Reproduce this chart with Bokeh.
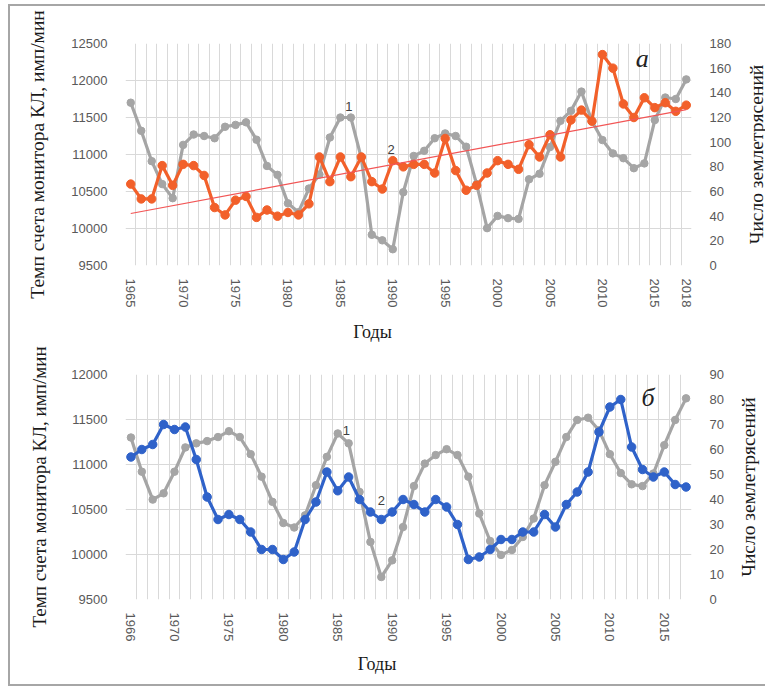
import numpy as np
from bokeh.plotting import figure
from bokeh.models import Range1d, LinearAxis, FixedTicker, Label, ColumnDataSource
from bokeh.layouts import column, row
from bokeh.embed import file_html
from bokeh.resources import INLINE

# ---- panel (а): 1965-2018 ----
years_a = list(range(1965, 2019))
count_a = [11700, 11320, 10910, 10600, 10410, 11130, 11270, 11250, 11220, 11375,
           11400, 11435, 11200, 10845, 10725, 10340, 10220, 10540, 10730, 11230,
           11500, 11500, 10950, 9915, 9840, 9720, 10490, 10980, 11050, 11220,
           11285, 11250, 11105, 10600, 10005, 10170, 10140, 10130, 10665, 10740,
           11100, 11455, 11590, 11850, 11450, 11195, 11015, 10950, 10815, 10880,
           11465, 11770, 11750, 12015]
quakes_a = [66, 54, 54, 81, 65, 82, 81, 73, 47, 41,
            53, 56, 39, 45, 40, 43, 41, 50, 88, 68,
            88, 72, 88, 68, 62, 85, 80, 82, 82, 75,
            103, 77, 61, 65, 75, 85, 82, 78, 98, 88,
            106, 88, 118, 126, 117, 171, 160, 131, 120, 136,
            128, 132, 125, 130]
xticks_a = [1965, 1970, 1975, 1980, 1985, 1990, 1995, 2000, 2005, 2010, 2015, 2018]
rticks_a = list(range(0, 181, 20))

# ---- panel (б): 1966-2017 ----
years_b = list(range(1966, 2018))
count_b = [11300, 10920, 10610, 10680, 10920, 11190, 11235, 11260, 11305, 11370,
           11305, 11115, 10865, 10585, 10350, 10300, 10435, 10770, 11085, 11345,
           11235, 10695, 10140, 9750, 9935, 10305, 10760, 11010, 11105, 11170,
           11105, 10865, 10455, 10150, 9995, 10050, 10195, 10400, 10770, 11030,
           11305, 11495, 11520, 11380, 11115, 10905, 10780, 10760, 10900, 11215,
           11495, 11735]
quakes_b = [57, 60, 62, 70, 68, 69, 56, 41, 32, 34,
            32, 27, 20, 20, 16, 19, 32, 39, 51, 43.5,
            49, 40, 35, 32, 35, 40, 38, 35, 40, 37,
            30, 16, 17, 20, 24, 24, 27, 27, 34, 29,
            38, 43, 51, 67, 77, 80, 61, 52, 49, 51,
            46, 45]
xticks_b = [1966, 1970, 1975, 1980, 1985, 1990, 1995, 2000, 2005, 2010, 2015]
rticks_b = list(range(0, 91, 10))

lticks_a = list(range(9500, 12501, 500))
lticks_b = list(range(9500, 12001, 500))

GRAY = "#a5a5a5"
ORANGE = "#f2602a"
BLUE = "#2f62c9"
TREND = "#f25555"
GRID = "#d9d9d9"
TICK_TXT = "#595959"
SANS = "Liberation Sans"
SERIF = "Liberation Serif"

LEFT_LABEL = "Темп счета монитора КЛ, имп/мин"
RIGHT_LABEL = "Число землетрясений"
X_LABEL = "Годы"
NBSP = "\u00a0"


def style_axis(ax, label_standoff, label_size="19.5px"):
    ax.axis_line_color = None
    ax.major_tick_line_color = None
    ax.minor_tick_line_color = None
    ax.major_label_text_font = SANS
    ax.major_label_text_font_size = "13px"
    ax.major_label_text_color = TICK_TXT
    ax.major_label_standoff = 12
    ax.axis_label_text_font = SERIF
    ax.axis_label_text_font_size = label_size
    ax.axis_label_text_font_style = "normal"
    ax.axis_label_text_color = "#1a1a1a"
    ax.axis_label_standoff = label_standoff


def make_panel(years, count, quakes, xlo, xhi, ylo, yhi, rmax,
               xticks, lticks, rticks, borders, frame_h, stands, xpad, ysize):
    bl, br, bt, bb = borders
    xs, ls = stands
    p = figure(frame_width=566, frame_height=frame_h,
               min_border_left=bl, min_border_right=br,
               min_border_top=bt, min_border_bottom=bb,
               x_range=Range1d(xlo, xhi), y_range=Range1d(ylo, yhi),
               output_backend="svg", toolbar_location=None,
               background_fill_color="white", border_fill_color="white")
    p.outline_line_color = None
    p.extra_y_ranges = {"eq": Range1d(0, rmax)}

    # category-style vertical grid: lines between the yearly points
    p.xgrid.ticker = FixedTicker(ticks=[xlo + k for k in range(int(xhi - xlo) + 1)])
    p.xgrid.grid_line_color = GRID
    p.ygrid.grid_line_color = GRID
    p.ygrid.ticker = FixedTicker(ticks=lticks)

    p.xaxis.ticker = FixedTicker(ticks=xticks)
    p.xaxis.major_label_orientation = "vertical"
    # trailing no-break spaces push the centred title left of the frame centre
    p.xaxis.axis_label = X_LABEL + NBSP * xpad
    style_axis(p.xaxis[0], xs, "18px")
    p.xaxis.major_label_standoff = 7

    p.yaxis.ticker = FixedTicker(ticks=lticks)
    p.yaxis.axis_label = LEFT_LABEL
    style_axis(p.yaxis[0], ls, ysize)

    rax = LinearAxis(y_range_name="eq", ticker=FixedTicker(ticks=rticks))
    style_axis(rax, 0)
    p.add_layout(rax, "right")

    src = ColumnDataSource(dict(year=years, count=count, quakes=quakes))
    p.line("year", "count", source=src, line_color=GRAY, line_width=3.2)
    p.scatter("year", "count", source=src, size=7.5, fill_color=GRAY, line_color=GRAY)
    return p, src


def side_title(frame_h, bt, bb, standoff):
    """Narrow strip whose axis title (reading bottom-to-top) names the right-hand scale."""
    q = figure(frame_width=2, frame_height=frame_h, min_border_left=32, min_border_right=0,
               min_border_top=bt, min_border_bottom=bb,
               x_range=Range1d(0, 1), y_range=Range1d(0, 1), x_axis_location=None,
               output_backend="svg", toolbar_location=None,
               background_fill_color="white", border_fill_color="white")
    q.outline_line_color = None
    q.xgrid.visible = False
    q.ygrid.visible = False
    ax = q.yaxis[0]
    ax.ticker = FixedTicker(ticks=[0.5])
    ax.major_label_overrides = {0.5: ""}
    ax.axis_label = RIGHT_LABEL
    style_axis(ax, standoff)
    ax.major_label_standoff = 0
    ax.major_tick_out = 0
    ax.major_tick_in = 0
    return q


p1, src1 = make_panel(years_a, count_a, quakes_a, 1964.5, 2018.5, 9500, 12500, 180,
                      xticks_a, lticks_a, rticks_a, (115, 40, 37, 80), 222, (12, 20), 16,
                      "19.5px")
p1.line("year", "quakes", source=src1, y_range_name="eq", line_color=ORANGE, line_width=3.2)
p1.scatter("year", "quakes", source=src1, y_range_name="eq", size=8.5,
           fill_color=ORANGE, line_color=ORANGE)

# linear trend of the earthquake counts
k, b = np.polyfit(years_a, quakes_a, 1)
trend_x = [years_a[0], years_a[-1]]
trend_y = [k * years_a[0] + b, k * years_a[-1] + b]
p1.line(trend_x, trend_y, y_range_name="eq", line_color=TREND, line_width=1.2)

p2, src2 = make_panel(years_b, count_b, quakes_b, 1965.5, 2017.5, 9500, 12000, 90,
                      xticks_b, lticks_b, rticks_b, (110, 45, 29, 85), 225, (10, 18), 14,
                      "19px")
p2.line("year", "quakes", source=src2, y_range_name="eq", line_color=BLUE, line_width=3.2)
p2.scatter("year", "quakes", source=src2, y_range_name="eq", size=8.5,
           fill_color=BLUE, line_color=BLUE)


def curve_tag(p, x, y, text):
    p.add_layout(Label(x=x, y=y, text=text, text_font=SANS, text_font_size="13px",
                       text_color="#404040", text_align="center", text_baseline="middle"))


curve_tag(p1, 1985.8, 11655, "1")
curve_tag(p1, 1989.85, 11061, "2")
curve_tag(p2, 1985.8, 11381, "1")
curve_tag(p2, 1989.0, 10603, "2")

p1.add_layout(Label(x=2013.8, y=168, y_range_name="eq", text="а", text_font=SERIF,
                    text_font_size="26px", text_font_style="italic", text_color="#222222",
                    text_align="center", text_baseline="middle"))
p2.add_layout(Label(x=2013.5, y=81, y_range_name="eq", text="б", text_font=SERIF,
                    text_font_size="26px", text_font_style="italic", text_color="#222222",
                    text_align="center", text_baseline="middle"))

q1 = side_title(222, 37, 80, 11)
q2 = side_title(225, 29, 85, 19)

frame_border = "2px solid #a6a6a6"
layout = row(column(p1, p2, spacing=0), column(q1, q2, spacing=0), spacing=0,
             margin=(4, 0, 0, 8),
             styles={"border-top": frame_border, "border-left": frame_border,
                     "border-bottom": frame_border})

open("out.html", "w").write(file_html(layout, INLINE))
